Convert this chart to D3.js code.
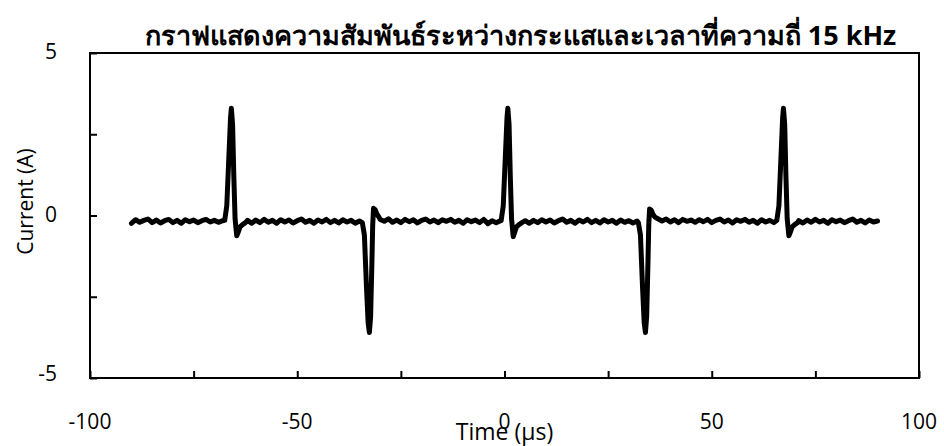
<!DOCTYPE html>
<html>
<head>
<meta charset="utf-8">
<script src="https://cdn.jsdelivr.net/npm/d3@7"></script>
<style>
  body { margin: 0; background: #fff; }
  text { font-family: 'Open Sans', 'Noto Sans', sans-serif; fill: #000; }
</style>
</head>
<body>
<div id="chart"></div>
<script>
const margin = { top: 53, left: 90, right: 25, bottom: 68 }

const height = 446 - margin.top - margin.bottom
const width = 944 - margin.left - margin.right

// chart texts
const title = 'กราฟแสดงความสัมพันธ์ระหว่างกระแสและเวลาที่ความถี่ 15 kHz'
const xLabel = 'Time (µs)'
const yLabel = 'Current (A)'

// ticks
const xTickLabels = [-100, -50, 0, 50, 100]
const xTicksAll = [-100, -75, -50, -25, 0, 25, 50, 75, 100]
const yTickLabels = [-5, 0, 5]
const yTicksAll = [-5, -2.5, 0, 2.5, 5]

// waveform (time in µs, current in A)
const timeUs = [
  // baseline
  -90, -89, -88, -87, -86, -85, -84, -83, -82, -81, -80, -79, -78, -77, -76, -75, -74, -73, -72, -71, -70, -69, -68,
  // positive pulse 1
  -67.5, -67.0, -66.5, -66.1, -65.9, -65.6, -65.3, -65.0, -64.6, -64.2, -63.8, -63.2, -62.5,
  // baseline
  -62, -61, -60, -59, -58, -57, -56, -55, -54, -53, -52, -51, -50, -49, -48, -47, -46, -45, -44, -43, -42, -41, -40, -39, -38, -37, -36, -35,
  // negative pulse 1
  -34.3, -33.8, -33.3, -32.9, -32.6, -32.3, -32.0, -31.8, -31.6, -31.2, -30.8, -30.3,
  // baseline
  -30, -29, -28, -27, -26, -25, -24, -23, -22, -21, -20, -19, -18, -17, -16, -15, -14, -13, -12, -11, -10, -9, -8, -7, -6, -5, -4, -3, -2,
  // positive pulse 2
  -0.8, -0.3, 0.2, 0.6, 0.8, 1.1, 1.4, 1.7, 2.1, 2.5, 2.9, 3.5, 4.2,
  // baseline
  5, 6, 7, 8, 9, 10, 11, 12, 13, 14, 15, 16, 17, 18, 19, 20, 21, 22, 23, 24, 25, 26, 27, 28, 29, 30, 31, 32,
  // negative pulse 2
  32.3, 32.8, 33.3, 33.7, 34.0, 34.3, 34.6, 34.8, 35.0, 35.4, 35.8, 36.3,
  // baseline
  37, 38, 39, 40, 41, 42, 43, 44, 45, 46, 47, 48, 49, 50, 51, 52, 53, 54, 55, 56, 57, 58, 59, 60, 61, 62, 63, 64, 65,
  // positive pulse 3
  65.7, 66.2, 66.7, 67.1, 67.3, 67.6, 67.9, 68.2, 68.6, 69.0, 69.4, 70.0, 70.7,
  // baseline
  71, 72, 73, 74, 75, 76, 77, 78, 79, 80, 81, 82, 83, 84, 85, 86, 87, 88, 89, 90
]

const currentA = [
  -0.24, -0.13, -0.21, -0.15, -0.11, -0.22, -0.14, -0.23, -0.16, -0.12, -0.22, -0.15, -0.24, -0.13, -0.19, -0.14, -0.22, -0.16, -0.12, -0.20, -0.15, -0.21, -0.16,
  -0.15, 0.30, 1.80, 3.00, 3.30, 2.80, 1.20, -0.10, -0.62, -0.50, -0.35, -0.28, -0.22,
  -0.15, -0.24, -0.14, -0.22, -0.12, -0.21, -0.15, -0.24, -0.13, -0.20, -0.14, -0.23, -0.16, -0.11, -0.21, -0.15, -0.24, -0.14, -0.20, -0.12, -0.22, -0.15, -0.23, -0.13, -0.20, -0.15, -0.24, -0.17,
  -0.22, -0.60, -2.20, -3.30, -3.60, -3.10, -1.50, -0.30, 0.22, 0.18, 0.05, -0.05,
  -0.12, -0.18, -0.10, -0.21, -0.14, -0.22, -0.12, -0.19, -0.13, -0.23, -0.15, -0.11, -0.20, -0.14, -0.22, -0.13, -0.18, -0.12, -0.21, -0.15, -0.24, -0.13, -0.19, -0.14, -0.22, -0.12, -0.25, -0.16, -0.22,
  -0.15, 0.30, 1.80, 3.00, 3.30, 2.80, 1.20, -0.10, -0.65, -0.50, -0.35, -0.28, -0.22,
  -0.16, -0.24, -0.15, -0.22, -0.13, -0.20, -0.14, -0.23, -0.16, -0.11, -0.21, -0.15, -0.24, -0.14, -0.20, -0.12, -0.22, -0.15, -0.23, -0.13, -0.20, -0.15, -0.24, -0.14, -0.21, -0.16, -0.23, -0.17,
  -0.22, -0.60, -2.20, -3.30, -3.60, -3.10, -1.50, -0.30, 0.20, 0.16, 0.04, -0.05,
  -0.10, -0.17, -0.11, -0.20, -0.13, -0.22, -0.12, -0.18, -0.14, -0.21, -0.13, -0.19, -0.12, -0.22, -0.15, -0.11, -0.20, -0.14, -0.23, -0.13, -0.18, -0.12, -0.21, -0.15, -0.24, -0.13, -0.20, -0.15, -0.22,
  -0.15, 0.30, 1.80, 3.00, 3.30, 2.80, 1.20, -0.10, -0.62, -0.50, -0.35, -0.28, -0.22,
  -0.16, -0.23, -0.14, -0.21, -0.12, -0.20, -0.15, -0.24, -0.13, -0.19, -0.14, -0.22, -0.16, -0.11, -0.21, -0.15, -0.23, -0.14, -0.20, -0.17
]

const points = timeUs.map((t, i) => ({ t: t, v: currentA[i] }))

const svg = d3
  .select('#chart')
  .append('svg')
  .attr('width', width + margin.left + margin.right)
  .attr('height', height + margin.top + margin.bottom)
  .append('g')
  .attr('transform', 'translate(' + margin.left + ',' + margin.top + ')')

const x = d3.scaleLinear().domain([-100, 100]).range([0, width])
const y = d3.scaleLinear().domain([-5, 5]).range([height, 0])

// frame
svg.append('rect')
  .attr('width', width)
  .attr('height', height)
  .attr('fill', 'none')
  .attr('stroke', '#000')
  .attr('stroke-width', 2)

// inward ticks, no labels
const xAxis = d3.axisBottom(x).tickValues(xTicksAll).tickSize(-7).tickFormat('')
svg.append('g')
  .attr('transform', 'translate(0,' + height + ')')
  .call(xAxis)
  .call(g => g.select('.domain').remove())
  .selectAll('line').attr('stroke-width', 2)

const yAxis = d3.axisLeft(y).tickValues(yTicksAll).tickSize(-7).tickFormat('')
svg.append('g')
  .call(yAxis)
  .call(g => g.select('.domain').remove())
  .selectAll('line').attr('stroke-width', 2)

// tick labels placed like the original (far from the frame)
svg.selectAll('.xlab')
  .data(xTickLabels)
  .enter()
  .append('text')
  .attr('x', d => x(d))
  .attr('y', height + 51)
  .attr('text-anchor', 'middle')
  .attr('font-size', 21)
  .text(d => d)

svg.selectAll('.ylab')
  .data(yTickLabels)
  .enter()
  .append('text')
  .attr('x', -33)
  .attr('y', d => y(d) + (d < 0 ? 3 : 6))
  .attr('text-anchor', 'end')
  .attr('font-size', 21)
  .text(d => d)

// the waveform
const line = d3.line()
  .x(d => x(d.t))
  .y(d => y(d.v))

svg.append('path')
  .datum(points)
  .attr('d', line)
  .attr('fill', 'none')
  .attr('stroke', '#000')
  .attr('stroke-width', 5)
  .attr('stroke-linejoin', 'round')
  .attr('stroke-linecap', 'round')

// titles
svg.append('text')
  .attr('x', width / 2 + 16)
  .attr('y', -8)
  .attr('text-anchor', 'middle')
  .attr('font-size', 27)
  .attr('font-weight', 'bold')
  .text(title)

svg.append('text')
  .attr('x', width / 2)
  .attr('y', height + 62)
  .attr('text-anchor', 'middle')
  .attr('font-size', 23)
  .text(xLabel)

svg.append('text')
  .attr('transform', 'translate(-57,' + (height / 2 - 14) + ') rotate(-90)')
  .attr('text-anchor', 'middle')
  .attr('font-size', 21)
  .text(yLabel)
</script>
</body>
</html>
